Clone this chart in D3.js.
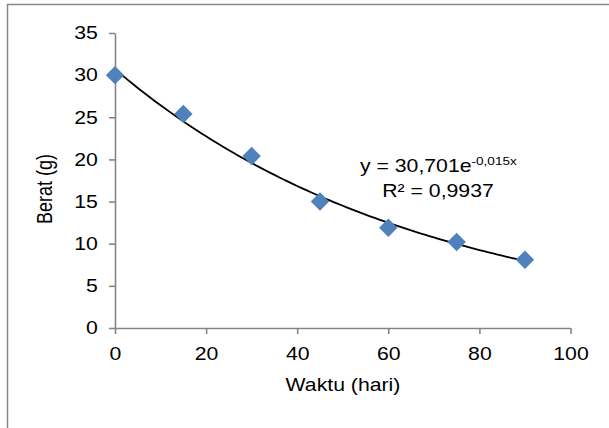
<!DOCTYPE html>
<html>
<head>
<meta charset="utf-8">
<script src="https://cdn.jsdelivr.net/npm/d3@7"></script>
<style>
  body { margin: 0; background: #fff; }
  text { font-family: "Liberation Sans", Arial, sans-serif; fill: #000; }
</style>
</head>
<body>
<div id="chart"></div>
<script>
// Data
const days = [0, 15, 30, 45, 60, 75, 90];
const weights = [30.0, 25.4, 20.4, 15.0, 11.9, 10.2, 8.1];
const xTicks = [0, 20, 40, 60, 80, 100];
const yTicks = [0, 5, 10, 15, 20, 25, 30, 35];
// Exponential trend line y = a * e^(b x)
const trendA = 30.701;
const trendB = -0.015;

const w = 609, h = 428;
// The original text looks a bit stretched sideways
const sx = 1.18;
const fs = "18px";

const svg = d3.select("#chart").append("svg")
  .attr("width", w).attr("height", h);

// Chart area border (only top and left visible in the picture)
svg.append("rect")
  .attr("x", 7.5).attr("y", 4.5)
  .attr("width", 700).attr("height", 500)
  .attr("fill", "none").attr("stroke", "#868686").attr("stroke-width", 1.5);

const x = d3.scaleLinear().domain([0, 100]).range([115, 570.5]);
const y = d3.scaleLinear().domain([0, 35]).range([328, 33]);

// Axes
const axisColor = "#868686";
const xAxis = svg.append("g")
  .attr("transform", "translate(0," + y(0) + ")")
  .call(d3.axisBottom(x).tickValues(xTicks).tickSize(6).tickPadding(13).tickSizeOuter(0));
const yAxis = svg.append("g")
  .attr("transform", "translate(" + x(0) + ",0)")
  .call(d3.axisLeft(y).tickValues(yTicks).tickSize(6).tickPadding(8.5).tickSizeOuter(0));
[xAxis, yAxis].forEach(a => {
  a.select(".domain").attr("stroke", axisColor).attr("stroke-width", 1.6);
  a.selectAll(".tick line").attr("stroke", axisColor).attr("stroke-width", 1.6);
  a.selectAll(".tick text")
    .style("font-family", "'Liberation Sans', Arial, sans-serif")
    .style("font-size", fs).attr("fill", "#000")
    .attr("transform", "scale(" + sx + ",1)");
});

// Trend line
const trendPts = d3.range(0, 90.5, 1).map(d => [d, trendA * Math.exp(trendB * d)]);
svg.append("path")
  .datum(trendPts)
  .attr("fill", "none").attr("stroke", "#000").attr("stroke-width", 1.8)
  .attr("d", d3.line().x(d => x(d[0])).y(d => y(d[1])));

// Diamond markers
const diamond = d3.symbol().type(d3.symbolSquare).size(170);
svg.selectAll(".pt")
  .data(days.map((d, i) => [d, weights[i]]))
  .enter().append("path")
  .attr("class", "pt")
  .attr("d", diamond)
  .attr("transform", d => "translate(" + x(d[0]) + "," + y(d[1]) + ") rotate(45)")
  .attr("fill", "#4F81BD");

// Equation label
const eq = svg.append("text")
  .attr("transform", "translate(360,172) scale(" + sx + ",1)")
  .style("font-size", fs);
eq.append("tspan").text("y = 30,701e");
eq.append("tspan").attr("dy", -7).style("font-size", "11.5px").text("-0,015x");
svg.append("text")
  .attr("transform", "translate(438,196.5) scale(" + sx + ",1)")
  .attr("text-anchor", "middle")
  .style("font-size", fs)
  .text("R\u00B2 = 0,9937");

// Axis titles
svg.append("text")
  .attr("transform", "translate(343,391) scale(" + sx + ",1)")
  .attr("text-anchor", "middle")
  .style("font-size", fs)
  .text("Waktu (hari)");
svg.append("text")
  .attr("transform", "translate(52,189) scale(" + sx + ",1) rotate(-90)")
  .attr("text-anchor", "middle")
  .style("font-size", fs)
  .text("Berat (g)");
</script>
</body>
</html>
